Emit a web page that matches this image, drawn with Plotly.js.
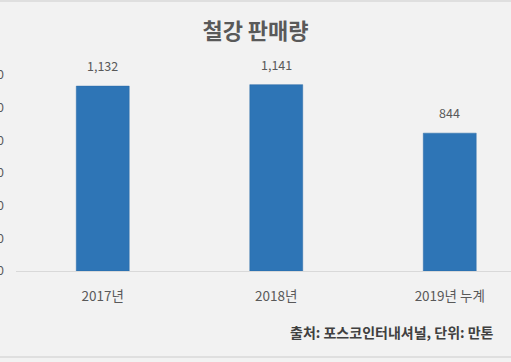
<!DOCTYPE html>
<html>
<head>
<meta charset="utf-8">
<script src="https://cdn.plot.ly/plotly-3.0.1.min.js"></script>
<style>
html,body{margin:0;padding:0;background:#f2f2f2;}
#chart{width:511px;height:362px;}
</style>
</head>
<body>
<div id="chart"></div>
<script>
const categories = ["2017년", "2018년", "2019년 누계"];
const values = [1132, 1141, 844];
const valueLabels = ["1,132", "1,141", "844"];
const yTicks = [0, 200, 400, 600, 800, 1000, 1200];
const yTickLabels = ["0", "200", "400", "600", "800", "1,000", "1,200"];
const titleText = "철강 판매량";
const sourceText = "출처: 포스코인터내셔널, 단위: 만톤";

const FONT = "'Noto Sans CJK KR', 'Noto Sans', sans-serif";
const GREY = "#595959";

const trace = {
  type: "bar",
  x: categories,
  y: values,
  width: 0.305,
  marker: {color: "#2e75b6", line: {color: "#2a6aa6", width: 0.5}},
  hoverinfo: "skip"
};

const annotations = categories.map((c, i) => ({
  x: c, y: values[i], xref: "x", yref: "y",
  text: valueLabels[i], showarrow: false,
  yanchor: "bottom", yshift: 9,
  font: {family: FONT, size: 12.5, color: GREY}
}));
annotations.push({
  xref: "paper", yref: "paper", x: 480/495, y: -0.31,
  xanchor: "right", yanchor: "middle",
  text: "<b>" + sourceText + "</b>", showarrow: false,
  font: {family: FONT, size: 14, color: "#404040"}
});

const layout = {
  width: 511, height: 362,
  margin: {l: 16, r: 0, t: 75, b: 91, pad: 0},
  paper_bgcolor: "#f2f2f2",
  plot_bgcolor: "#f2f2f2",
  showlegend: false,
  title: {
    text: "<b>" + titleText + "</b>",
    x: 0.5, xanchor: "center",
    y: 1 - 31/362, yanchor: "middle",
    font: {family: FONT, size: 22, color: GREY}
  },
  xaxis: {
    type: "category",
    range: [-0.5, 2.353],
    showline: true, linecolor: "#d9d9d9", linewidth: 1,
    showgrid: false, zeroline: false, ticks: "",
    ticklabelstandoff: 13,
    tickfont: {family: FONT, size: 13.5, color: GREY},
    fixedrange: true
  },
  yaxis: {
    range: [0, 1200],
    tickvals: yTicks, ticktext: yTickLabels,
    showgrid: false, zeroline: false, showline: false, ticks: "",
    ticklabelstandoff: 11,
    tickfont: {family: FONT, size: 12.5, color: GREY},
    fixedrange: true
  },
  annotations: annotations,
  shapes: [
    {type: "line", xref: "paper", yref: "paper", x0: -0.1, x1: 1.1, y0: 1 + 74/196, y1: 1 + 74/196, line: {color: "#d9d9d9", width: 1.5}},
    {type: "line", xref: "paper", yref: "paper", x0: -0.1, x1: 1.1, y0: -86/196, y1: -86/196, line: {color: "#d9d9d9", width: 1.5}}
  ]
};

Plotly.newPlot("chart", [trace], layout, {displayModeBar: false, staticPlot: true});
</script>
</body>
</html>
